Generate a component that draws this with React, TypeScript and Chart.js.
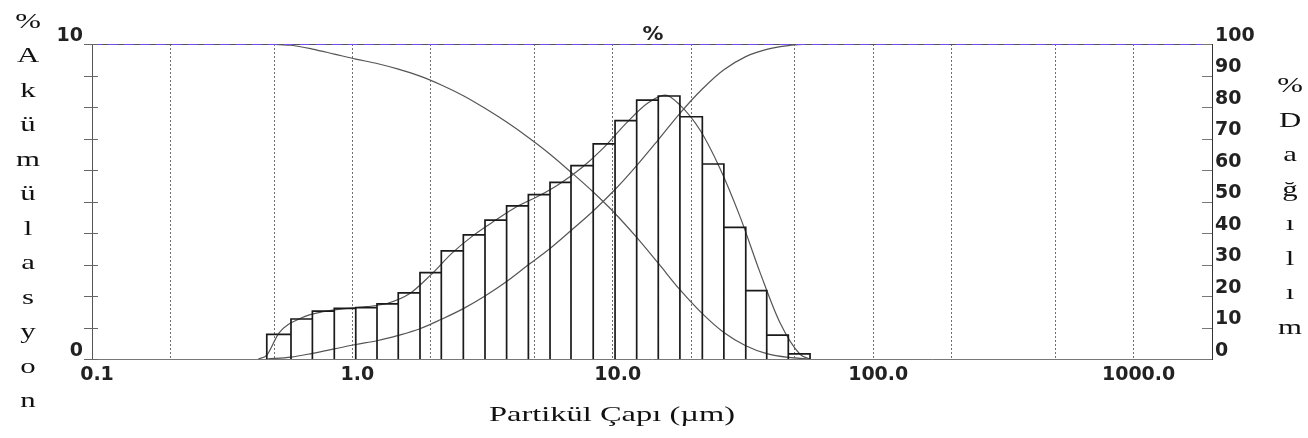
import React, { useEffect, useRef } from 'react';
import { Chart, registerables } from 'chart.js';

Chart.register(...registerables);

// ---- Data ----
// Histogram bin edges (µm) and bar heights (left axis, %)
const binEdges = [0.469, 0.581, 0.702, 0.852, 1.03, 1.243, 1.5, 1.818, 2.195, 2.667, 3.23, 3.91, 4.74, 5.74, 6.91, 8.41, 10.2, 12.35, 14.95, 18.1, 22.07, 26.7, 32.4, 39.0, 47.2, 57.2];
const binHeights = [0.78, 1.27, 1.52, 1.61, 1.63, 1.75, 2.1, 2.74, 3.43, 3.94, 4.41, 4.86, 5.22, 5.61, 6.14, 6.83, 7.57, 8.22, 8.35, 7.69, 6.19, 4.18, 2.17, 0.76, 0.16];

// Smoothed frequency curve (left axis)
const freqX = [0.435, 0.469, 0.523, 0.639, 0.771, 0.937, 1.135, 1.367, 1.65, 2.0, 2.413, 2.931, 3.551, 4.287, 5.208, 6.298, 7.616, 9.252, 11.24, 13.59, 15.9, 18.12, 21.62, 25.8, 30.8, 36.75, 43.86, 52.35, 57.2];
const freqY = [0, 0.12, 0.83, 1.31, 1.5, 1.6, 1.66, 1.77, 2.06, 2.67, 3.36, 3.94, 4.41, 4.84, 5.18, 5.58, 6.08, 6.72, 7.48, 8.12, 8.38, 8.06, 7.27, 6.05, 4.52, 2.75, 1.15, 0.15, 0];

// Cumulative curves (right axis, %), read at the bin edges
const cumX = [0.469, 0.581, 0.702, 0.852, 1.03, 1.243, 1.5, 1.818, 2.195, 2.667, 3.23, 3.91, 4.74, 5.74, 6.91, 8.41, 10.2, 12.35, 14.95, 18.1, 22.07, 26.7, 32.4, 39.0, 47.2, 57.2];
const cumUnderY = [0, 0.6, 1.8, 3.2, 4.6, 5.8, 7.5, 9.6, 12.6, 16.0, 20.0, 24.6, 29.9, 35.1, 40.8, 47.0, 53.8, 61.4, 69.6, 78.0, 85.7, 91.8, 96.0, 98.3, 99.5, 100];
const cumOverY = [100, 99.6, 98.4, 96.8, 95.2, 93.8, 92.0, 89.8, 87.0, 83.6, 79.6, 75.2, 70.3, 65.0, 59.3, 53.0, 46.2, 38.6, 30.4, 22.0, 14.4, 8.4, 4.2, 1.7, 0.5, 0];

// Axes
const xGridValues = [0.1, 0.2, 0.5, 1, 2, 5, 10, 20, 50, 100, 200, 500, 1000, 2000];
const xLabelValues = [0.1, 1, 10, 100, 1000];
const xLabelTexts = ['0.1', '1.0', '10.0', '100.0', '1000.0'];
const leftLabelValues = [0, 10];

// Texts
const topTitle = '%';
const xTitle = 'Partikül Çapı (µm)';
const leftTitleLetters = ['%', 'A', 'k', 'ü', 'm', 'ü', 'l', 'a', 's', 'y', 'o', 'n'];
const rightTitleLetters = ['%', 'D', 'a', 'ğ', 'ı', 'l', 'ı', 'm'];

function drawStretched(ctx: CanvasRenderingContext2D, text: string, cx: number, baseline: number, font: string, sx: number, color: string) {
  ctx.save();
  ctx.font = font;
  ctx.fillStyle = color;
  ctx.textAlign = 'center';
  ctx.textBaseline = 'alphabetic';
  ctx.translate(cx, baseline);
  ctx.scale(sx, 1);
  ctx.fillText(text, 0, 0);
  ctx.restore();
}

const decorPlugin = {
  id: 'decor',
  afterDraw(chart: any) {
    const { ctx, chartArea: a, scales } = chart;
    const yL = scales.y;
    const yR = scales.y1;
    ctx.save();
    // top frame line (dashed purple over dark)
    ctx.lineWidth = 1;
    ctx.strokeStyle = '#555';
    ctx.beginPath();
    ctx.moveTo(a.left, a.top + 0.5);
    ctx.lineTo(a.right, a.top + 0.5);
    ctx.stroke();
    ctx.strokeStyle = '#7a4cf0';
    ctx.setLineDash([9, 7]);
    ctx.beginPath();
    ctx.moveTo(a.left, a.top + 0.5);
    ctx.lineTo(a.right, a.top + 0.5);
    ctx.stroke();
    ctx.setLineDash([]);

    // left axis tick marks (crossing the axis)
    ctx.strokeStyle = '#666';
    for (const t of yL.ticks) {
      const y = Math.round(yL.getPixelForValue(t.value)) + 0.5;
      ctx.beginPath();
      ctx.moveTo(a.left - 8, y);
      ctx.lineTo(a.left + 6, y);
      ctx.stroke();
    }
    // right axis tick marks (inside)
    ctx.strokeStyle = '#777';
    for (const t of yR.ticks) {
      const y = Math.round(yR.getPixelForValue(t.value)) + 0.5;
      ctx.beginPath();
      ctx.moveTo(a.right - 10, y);
      ctx.lineTo(a.right, y);
      ctx.stroke();
    }
    ctx.restore();

    // top title
    drawStretched(ctx, topTitle, (a.left + a.right) / 2 + 1, 40, 'bold 19px "DejaVu Sans"', 1.1, '#222');

    // left stacked title
    leftTitleLetters.forEach((ch, i) => {
      drawStretched(ctx, ch, 28, 27.5 + 34.5 * i, '22px "Liberation Serif"', 1.4, '#111');
    });
    // right stacked title
    rightTitleLetters.forEach((ch, i) => {
      drawStretched(ctx, ch, 1290, 92 + 34.5 * i, '22px "Liberation Serif"', 1.4, '#111');
    });

    // x axis title, stretched to the reference width
    ctx.save();
    ctx.font = '22px "Liberation Serif"';
    const w = ctx.measureText(xTitle).width;
    ctx.restore();
    drawStretched(ctx, xTitle, 612, 421, '22px "Liberation Serif"', 246 / w, '#111');
  },
};

export default function App() {
  const canvasRef = useRef<HTMLCanvasElement | null>(null);

  useEffect(() => {
    const canvas = canvasRef.current;
    if (!canvas) return;

    const histPoints: { x: number; y: number }[] = [];
    binHeights.forEach((h, i) => {
      histPoints.push({ x: binEdges[i], y: 0 });
      histPoints.push({ x: binEdges[i], y: h });
      histPoints.push({ x: binEdges[i + 1], y: h });
      histPoints.push({ x: binEdges[i + 1], y: 0 });
    });
    const freqPoints = freqX.map((x, i) => ({ x, y: freqY[i] }));
    const underPoints = cumX.map((x, i) => ({ x, y: cumUnderY[i] }));
    const overPoints = cumX.map((x, i) => ({ x, y: cumOverY[i] }));

    const tickFont = { family: 'DejaVu Sans', weight: 'bold' as const, size: 19 };
    const curve = {
      borderColor: '#555',
      borderWidth: 1.2,
      pointRadius: 0,
      cubicInterpolationMode: 'monotone' as const,
      fill: false,
    };

    const chart = new Chart(canvas, {
      type: 'line',
      data: {
        datasets: [
          {
            data: histPoints,
            yAxisID: 'y',
            borderColor: '#1a1a1a',
            borderWidth: 1.7,
            pointRadius: 0,
            tension: 0,
            fill: false,
          },
          { data: freqPoints, yAxisID: 'y', ...curve },
          { data: underPoints, yAxisID: 'y1', ...curve },
          { data: overPoints, yAxisID: 'y1', ...curve },
        ],
      },
      options: {
        responsive: false,
        animation: false,
        devicePixelRatio: 1,
        layout: { padding: { top: 44, left: 0, right: 0, bottom: 0 } },
        plugins: {
          legend: { display: false },
          tooltip: { enabled: false },
          title: { display: false },
        },
        scales: {
          x: {
            type: 'logarithmic',
            position: 'bottom',
            min: 0.1,
            max: 2000,
            afterBuildTicks: (s: any) => {
              s.ticks = xGridValues.map((v) => ({ value: v }));
            },
            afterFit: (s: any) => {
              s.height = 79;
            },
            ticks: {
              autoSkip: false,
              maxRotation: 0,
              minRotation: 0,
              padding: 5,
              labelOffset: 5,
              color: '#222',
              font: tickFont,
              callback: (v: any) => {
                const i = xLabelValues.indexOf(Number(v));
                return i >= 0 ? xLabelTexts[i] : '';
              },
            },
            grid: { color: '#6f6f6f', lineWidth: 1, drawTicks: false },
            border: { color: '#777', dash: [2, 2] },
          },
          y: {
            position: 'left',
            min: 0,
            max: 10,
            afterFit: (s: any) => {
              s.width = 92;
            },
            ticks: {
              stepSize: 1,
              padding: 9,
              labelOffset: -8,
              color: '#222',
              font: tickFont,
              callback: (v: any) => (leftLabelValues.includes(Number(v)) ? String(v) : ''),
            },
            grid: { drawOnChartArea: false, drawTicks: false },
            border: { color: '#555' },
          },
          y1: {
            position: 'right',
            min: 0,
            max: 100,
            afterFit: (s: any) => {
              s.width = 96;
            },
            ticks: {
              stepSize: 10,
              padding: 3,
              labelOffset: -8,
              color: '#222',
              font: tickFont,
            },
            grid: { drawOnChartArea: false, drawTicks: false },
            border: { color: '#333' },
          },
        },
      },
      plugins: [decorPlugin],
    } as any);

    return () => {
      chart.destroy();
    };
  }, []);

  return (
    <div style={{ position: 'absolute', left: 0, top: 0, width: 1308, height: 438, background: '#fff' }}>
      <canvas ref={canvasRef} width={1308} height={438} style={{ display: 'block', width: 1308, height: 438 }} />
    </div>
  );
}
